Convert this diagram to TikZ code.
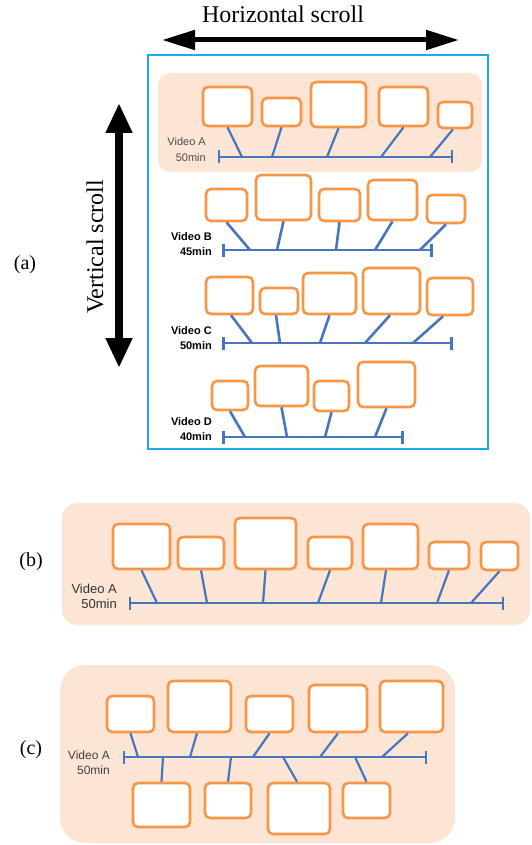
\documentclass[tikz,border=0pt]{standalone}
\usepackage{fontspec}
\setmainfont{Liberation Serif}
\newfontfamily\lsans{Liberation Sans}
\usetikzlibrary{fit,arrows.meta}
\definecolor{peach}{RGB}{252,229,212}
\definecolor{vorange}{RGB}{247,150,70}
\definecolor{vblue}{RGB}{72,118,188}
\definecolor{vframe}{RGB}{30,170,230}
\begin{document}
\begin{tikzpicture}[x=1pt,y=-1pt,
  vb/.style={draw=vorange,line width=2.6pt,rounded corners=5pt,fill=white,inner sep=0pt},
  link/.style={draw=vblue,line width=2.2pt},
  tline/.style={draw=vblue,line width=2.2pt,{Bar[width=13pt]}-{Bar[width=13pt]}},
  panel/.style={fill=peach,draw=none},
  lblA/.style={font=\lsans\fontsize{11}{16}\selectfont,text=black!70,align=right,inner sep=0pt,anchor=east},
  lblB/.style={font=\lsans\bfseries\fontsize{11}{15}\selectfont,text=black,align=right,inner sep=0pt,anchor=east},
  big/.style={font=\fontsize{24}{28}\selectfont,inner sep=0pt,anchor=base},
  tag/.style={font=\fontsize{20}{24}\selectfont,inner sep=0pt}]
\useasboundingbox (0,0) rectangle (532,845);

% ---------- scroll arrows ----------
\node[big] (hs) at (283,23) {Horizontal scroll};
\coordinate (hl) at (162,40);
\coordinate (hr) at (459,40);
\draw[line width=5pt,{Triangle[length=33pt,width=19pt]}-{Triangle[length=33pt,width=19pt]}] (hl) -- (hr);
\node[big,rotate=90] (vs) at (103,247) {Vertical scroll};
\coordinate (vt) at (119,103);
\coordinate (vbt) at (119,368);
\draw[line width=8pt,{Triangle[length=30pt,width=25pt]}-{Triangle[length=30pt,width=25pt]}] (vt) -- (vbt);

\node[tag] (ta) at (25,265) {(a)};
\node[tag] (tb) at (31,562) {(b)};
\node[tag] (tc) at (31,750) {(c)};

% ---------- panel (a) ----------
\draw[vframe,line width=2pt] (148,55) rectangle (488,449);
\fill[panel,rounded corners=12pt] (158,73) rectangle (482,172);

% row A
\node[lblA] (lA) at (206,150) {Video A\\50min};
\node[vb,fit={(203,87) (252,126)}] (a1) {};
\node[vb,fit={(262,98) (301,126)}] (a2) {};
\node[vb,fit={(311,82) (366,127)}] (a3) {};
\node[vb,fit={(379,87) (428,126)}] (a4) {};
\node[vb,fit={(438,102) (472,128)}] (a5) {};
\coordinate (as) at (218,157); \coordinate (ae) at (453,157);
\draw[tline] (as) -- (ae);
\coordinate (fa1) at (242,157); \coordinate (fa2) at (272,157);
\coordinate (fa3) at (327,157); \coordinate (fa4) at (381,157);
\coordinate (fa5) at (430,157);
\draw[link] (a1.south) -- (fa1);
\draw[link] (a2.south) -- (fa2);
\draw[link] (a3.south) -- (fa3);
\draw[link] (a4.south) -- (fa4);
\draw[link] ([xshift=-2pt]a5.south) -- (fa5);

% row B
\node[lblB] (lB) at (212,244.5) {Video B\\45min};
\node[vb,fit={(206,189) (247,221)}] (b1) {};
\node[vb,fit={(256,175) (311,220)}] (b2) {};
\node[vb,fit={(319,189) (360,221)}] (b3) {};
\node[vb,fit={(368,180) (417,220)}] (b4) {};
\node[vb,fit={(427,195) (465,223)}] (b5) {};
\coordinate (bs) at (222,250); \coordinate (be) at (433,250);
\draw[tline,line width=2.6pt] (bs) -- (be);
\coordinate (fb1) at (250,250); \coordinate (fb2) at (277,250);
\coordinate (fb3) at (336,250); \coordinate (fb4) at (375,250);
\coordinate (fb5) at (420,250);
\draw[link,line width=2.6pt] (b1.south) -- (fb1);
\draw[link,line width=2.6pt] (b2.south) -- (fb2);
\draw[link,line width=2.6pt] (b3.south) -- (fb3);
\draw[link,line width=2.6pt] (b4.south) -- (fb4);
\draw[link,line width=2.6pt] (b5.south) -- (fb5);

% row C
\node[lblB] (lC) at (212,338) {Video C\\50min};
\node[vb,fit={(206,277) (253,314)}] (c1) {};
\node[vb,fit={(260,288) (298,314)}] (c2) {};
\node[vb,fit={(303,273) (356,314)}] (c3) {};
\node[vb,fit={(363,268) (420,314)}] (c4) {};
\node[vb,fit={(427,278) (473,315)}] (c5) {};
\coordinate (cs) at (222,343); \coordinate (ce) at (453,343);
\draw[tline,line width=2.6pt] (cs) -- (ce);
\coordinate (fc1) at (252,343); \coordinate (fc2) at (280,343);
\coordinate (fc3) at (320,343); \coordinate (fc4) at (365,343);
\coordinate (fc5) at (413,343);
\draw[link,line width=2.6pt] ([xshift=1.5pt]c1.south) -- (fc1);
\draw[link,line width=2.6pt] ([xshift=-3pt]c2.south) -- (fc2);
\draw[link,line width=2.6pt] (c3.south) -- (fc3);
\draw[link,line width=2.6pt] ([xshift=-1.5pt]c4.south) -- (fc4);
\draw[link,line width=2.6pt] ([xshift=-7pt]c5.south) -- (fc5);

% row D
\node[lblB] (lD) at (212,429) {Video D\\40min};
\node[vb,fit={(212,381) (248,410)}] (d1) {};
\node[vb,fit={(255,366) (308,406)}] (d2) {};
\node[vb,fit={(314,381) (349,411)}] (d3) {};
\node[vb,fit={(358,362) (415,407)}] (d4) {};
\coordinate (ds) at (222,437); \coordinate (de) at (404,437);
\draw[tline,line width=2.6pt] (ds) -- (de);
\coordinate (fd1) at (245,437); \coordinate (fd2) at (287,437);
\coordinate (fd3) at (325,437); \coordinate (fd4) at (375,437);
\draw[link,line width=2.6pt] (d1.south) -- (fd1);
\draw[link,line width=2.6pt] (d2.south) -- (fd2);
\draw[link,line width=2.6pt] (d3.south) -- (fd3);
\draw[link,line width=2.6pt] (d4.south) -- (fd4);

% ---------- panel (b) ----------
\fill[panel,rounded corners=15pt] (62,503) rectangle (530,625);
\node[lblA,font=\lsans\fontsize{13}{15}\selectfont,text=black!80] (lbA) at (117,596.5) {Video A\\50min};
\node[vb,fit={(113,524) (170,569)}] (p1) {};
\node[vb,fit={(178,537) (224,569)}] (p2) {};
\node[vb,fit={(235,518) (296,569)}] (p3) {};
\node[vb,fit={(308,537) (352,569)}] (p4) {};
\node[vb,fit={(363,524) (418,569)}] (p5) {};
\node[vb,fit={(429,542) (469,569)}] (p6) {};
\node[vb,fit={(481,542) (518,570)}] (p7) {};
\coordinate (ps) at (129,603); \coordinate (pe) at (504,603);
\draw[tline] (ps) -- (pe);
\coordinate (fp1) at (157,603); \coordinate (fp2) at (207,603);
\coordinate (fp3) at (263,603); \coordinate (fp4) at (318,603);
\coordinate (fp5) at (381,603); \coordinate (fp6) at (437,603);
\coordinate (fp7) at (471,603);
\draw[link] (p1.south) -- (fp1);
\draw[link] (p2.south) -- (fp2);
\draw[link] (p3.south) -- (fp3);
\draw[link] (p4.south) -- (fp4);
\draw[link] ([xshift=-4.5pt]p5.south) -- (fp5);
\draw[link] (p6.south) -- (fp6);
\draw[link] (p7.south) -- (fp7);

% ---------- panel (c) ----------
\fill[panel,rounded corners=25pt] (60,665) rectangle (455,843);
\node[lblA,font=\lsans\fontsize{12}{15}\selectfont,text=black!75] (lcA) at (110,762.5) {Video A\\50min};
\node[vb,fit={(107,696) (154,732)}] (u1) {};
\node[vb,fit={(168,681) (231,732)}] (u2) {};
\node[vb,fit={(246,696) (293,732)}] (u3) {};
\node[vb,fit={(309,685) (367,732)}] (u4) {};
\node[vb,fit={(380,681) (443,732)}] (u5) {};
\node[vb,fit={(133,783) (190,827)}] (w1) {};
\node[vb,fit={(205,783) (251,818)}] (w2) {};
\node[vb,fit={(268,783) (330,834)}] (w3) {};
\node[vb,fit={(343,783) (390,818)}] (w4) {};
\coordinate (qs) at (123,757); \coordinate (qe) at (427,757);
\draw[tline] (qs) -- (qe);
\coordinate (fu1) at (138,757); \coordinate (fu2) at (190,757);
\coordinate (fu3) at (253,757); \coordinate (fu4) at (320,757);
\coordinate (fu5) at (382,757);
\coordinate (fw1) at (163,757); \coordinate (fw2) at (231,757);
\coordinate (fw3) at (283,757); \coordinate (fw4) at (355,757);
\draw[link] (u1.south) -- (fu1);
\draw[link] ([xshift=-2.5pt]u2.south) -- (fu2);
\draw[link] (u3.south) -- (fu3);
\draw[link] (u4.south) -- (fu4);
\draw[link] ([xshift=-3.5pt]u5.south) -- (fu5);
\draw[link] (w1.north) -- (fw1);
\draw[link] (w2.north) -- (fw2);
\draw[link] ([xshift=-2pt]w3.north) -- (fw3);
\draw[link] (w4.north) -- (fw4);
\end{tikzpicture}
\end{document}
